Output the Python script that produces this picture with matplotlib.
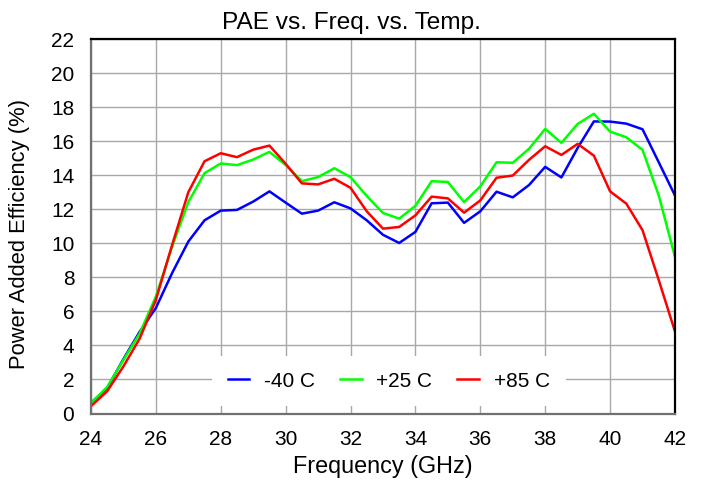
import numpy as np
import matplotlib
matplotlib.use("Agg")
import matplotlib.pyplot as plt

plt.rcParams['font.family'] = ['Liberation Sans', 'DejaVu Sans']

# frequency sweep, GHz
freq = np.arange(24.0, 42.01, 0.5)

# PAE in percent for each temperature
pae_m40 = [0.62, 1.5, 3.2, 4.8, 6.2, 8.25, 10.1, 11.35, 11.92, 11.96, 12.45, 13.05,
           12.39, 11.74, 11.92, 12.41, 12.05, 11.35, 10.5, 10.02, 10.67, 12.35, 12.39,
           11.2, 11.88, 13.03, 12.7, 13.42, 14.49, 13.87, 15.6, 17.16, 17.15, 17.03,
           16.7, 14.76, 12.81]
pae_p25 = [0.6, 1.56, 3.15, 4.7, 6.87, 9.8, 12.42, 14.12, 14.69, 14.59, 14.92, 15.37,
           14.6, 13.65, 13.89, 14.41, 13.89, 12.78, 11.78, 11.45, 12.2, 13.65, 13.6,
           12.42, 13.34, 14.76, 14.73, 15.55, 16.72, 15.9, 17.01, 17.61, 16.56, 16.23,
           15.49, 12.81, 9.2]
pae_p85 = [0.43, 1.31, 2.77, 4.4, 6.67, 9.9, 13.0, 14.82, 15.29, 15.06, 15.5, 15.74,
           14.67, 13.52, 13.46, 13.79, 13.26, 11.88, 10.86, 10.96, 11.64, 12.74, 12.64,
           11.8, 12.52, 13.85, 13.98, 14.9, 15.7, 15.19, 15.84, 15.15, 13.05, 12.33,
           10.77, 7.84, 4.82]

labels = ['-40 C', '+25 C', '+85 C']
colors = ['#0000ff', '#00ff00', '#ff0000']

fig = plt.figure(figsize=(7.02, 4.8), dpi=100)
ax = fig.add_axes([0.1296, 0.1385, 0.8319, 0.7802])

for y, lab, c in zip([pae_m40, pae_p25, pae_p85], labels, colors):
    ax.plot(freq, y, color=c, lw=1.8, label=lab)

ax.set_xlim(24, 42)
ax.set_ylim(0, 22)
ax.set_xticks(np.arange(24, 43, 2))
ax.set_yticks(np.arange(0, 23, 2))
ax.grid(True, color='#a8a8a8', lw=1.0)
ax.set_axisbelow(True)
ax.tick_params(length=0, labelsize=15, pad=12)

for side in ['left', 'bottom']:
    ax.spines[side].set_color('#707070')
    ax.spines[side].set_linewidth(1.6)
for side in ['top', 'right']:
    ax.spines[side].set_color('black')
    ax.spines[side].set_linewidth(1.6)

# title is centred on the whole figure
fig.text(0.5, 1 - 29 / 480, 'PAE vs. Freq. vs. Temp.', fontsize=17.6,
         ha='center', va='baseline')
ax.set_xlabel('Frequency (GHz)', fontsize=16.8, labelpad=4)
ax.set_ylabel('Power Added Efficiency (%)', fontsize=15.8)
ax.yaxis.set_label_coords(-0.105, 0.48)

leg = ax.legend(loc='lower center', bbox_to_anchor=(0.51, 0.0), ncol=3, fontsize=15,
                frameon=True, facecolor='white', edgecolor='none', framealpha=1,
                fancybox=False, handlelength=1.05, handletextpad=0.7,
                columnspacing=1.2, borderpad=0.75, borderaxespad=0.35)

fig.savefig('out.png', dpi=100)
